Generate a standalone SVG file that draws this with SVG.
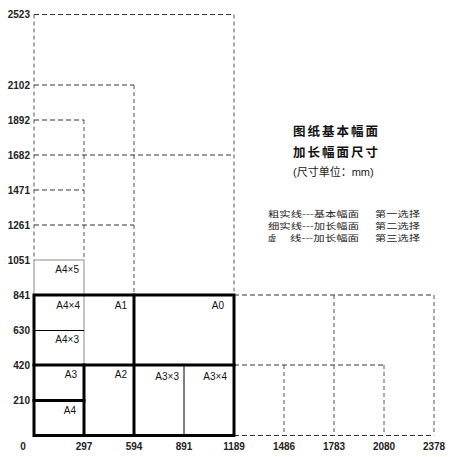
<svg xmlns="http://www.w3.org/2000/svg" width="455" height="457" viewBox="0 0 455 457">
<style>
.bg{fill:#fff}
.thick{stroke:#000;stroke-width:3;fill:none;stroke-linecap:square}
.thin{stroke:#000;stroke-width:1;fill:none}
.grey{stroke:#8a8a8a;stroke-width:1;fill:none}
.dh{stroke:#333;stroke-width:1;fill:none;stroke-dasharray:5,3}
.dv{stroke:#555;stroke-width:1;fill:none;stroke-dasharray:4,3}
.ax{font-family:"Liberation Sans",Arial,sans-serif;font-size:10px;font-weight:bold;fill:#222}
.lb{font-family:"Liberation Sans",Arial,sans-serif;font-size:10px;fill:#111;text-anchor:end}
.h{font-family:"Noto Sans CJK SC","Liberation Sans",sans-serif;font-size:12.5px;font-weight:bold;letter-spacing:2px;fill:#111}
.u{font-family:"Liberation Sans","Noto Sans CJK SC",sans-serif;font-size:11px;fill:#222}
.lg{font-family:"Noto Sans CJK SC","Liberation Sans",sans-serif;font-size:8.2px;fill:#222}
</style>
<rect class="bg" x="0" y="0" width="455" height="457"/>
<g id="connectors">
  <path class="dh" d="M34 14.5H234"/>
  <path class="dv" d="M34 14.5V260"/>
  <path class="dv" d="M234 14.5V295"/>
  <path class="dh" d="M34 85H134"/>
  <path class="dv" d="M134 85V295"/>
  <path class="dh" d="M34 120H84"/>
  <path class="dv" d="M84 120V260"/>
  <path class="dh" d="M34 155H234"/>
  <path class="dh" d="M34 190H84"/>
  <path class="dh" d="M34 225H134"/>
  <path class="dh" d="M234 295H434"/>
  <path class="dv" d="M434 295V435.5"/>
  <path class="dh" d="M234 435.5H434"/>
  <path class="dh" d="M234 365H384"/>
  <path class="dv" d="M384 365V435.5"/>
  <path class="dv" d="M334 295V435.5"/>
  <path class="dv" d="M284 365V435.5"/>
</g>
<g id="A4x5"><rect class="grey" x="34" y="260" width="50" height="35"/><text class="lb" x="79" y="273">A4×5</text></g>
<g id="A4x4"><path class="grey" d="M84 295V365"/><path class="thin" d="M34 330.5H84"/><text class="lb" x="80" y="309">A4×4</text></g>
<g id="A4x3"><text class="lb" x="79" y="343">A4×3</text></g>
<g id="A3x3"><path class="thin" d="M184 365V435.5"/><text class="lb" x="179" y="380">A3×3</text></g>
<g id="A3x4"><text class="lb" x="227" y="380">A3×4</text></g>
<g id="A0"><rect class="thick" x="34" y="295" width="200" height="140.5"/><text class="lb" x="224" y="309">A0</text></g>
<g id="A1"><path class="thick" d="M134 295V435.5"/><text class="lb" x="127" y="309">A1</text></g>
<g id="A2"><path class="thick" d="M34 365H234"/><text class="lb" x="127" y="378">A2</text></g>
<g id="A3"><path class="thick" d="M84 365V435.5"/><text class="lb" x="77" y="378">A3</text></g>
<g id="A4"><path class="thick" d="M34 400.5H84"/><text class="lb" x="76" y="414">A4</text></g>
<g id="y-axis" class="ax" text-anchor="end">
  <text x="30" y="18">2523</text>
  <text x="30" y="88.5">2102</text>
  <text x="30" y="123.5">1892</text>
  <text x="30" y="158.5">1682</text>
  <text x="30" y="193.5">1471</text>
  <text x="30" y="228.5">1261</text>
  <text x="30" y="263.5">1051</text>
  <text x="30" y="298.5">841</text>
  <text x="30" y="334">630</text>
  <text x="30" y="369">420</text>
  <text x="30" y="404">210</text>
</g>
<g id="x-axis" class="ax" text-anchor="middle">
  <text x="23" y="450">0</text>
  <text x="84" y="450">297</text>
  <text x="134" y="450">594</text>
  <text x="184" y="450">891</text>
  <text x="234" y="450">1189</text>
  <text x="284" y="450">1486</text>
  <text x="334" y="450">1783</text>
  <text x="384" y="450">2080</text>
  <text x="434" y="450">2378</text>
</g>
<g id="title">
  <text class="h" x="293" y="136">图纸基本幅面</text>
  <text class="h" x="293" y="157">加长幅面尺寸</text>
  <text class="u" x="293" y="176">(尺寸单位：mm)</text>
</g>
<g id="legend" class="lg">
  <text x="268" y="216.5" textLength="91" lengthAdjust="spacingAndGlyphs">粗实线---基本幅面</text><text x="375" y="216.5" textLength="45" lengthAdjust="spacingAndGlyphs">第一选择</text>
  <text x="268" y="228.5" textLength="91" lengthAdjust="spacingAndGlyphs">细实线---加长幅面</text><text x="375" y="228.5" textLength="45" lengthAdjust="spacingAndGlyphs">第二选择</text>
  <text x="268" y="240.5">虚</text><text x="290" y="240.5" textLength="69" lengthAdjust="spacingAndGlyphs">线---加长幅面</text><text x="375" y="240.5" textLength="45" lengthAdjust="spacingAndGlyphs">第三选择</text>
</g>
</svg>
